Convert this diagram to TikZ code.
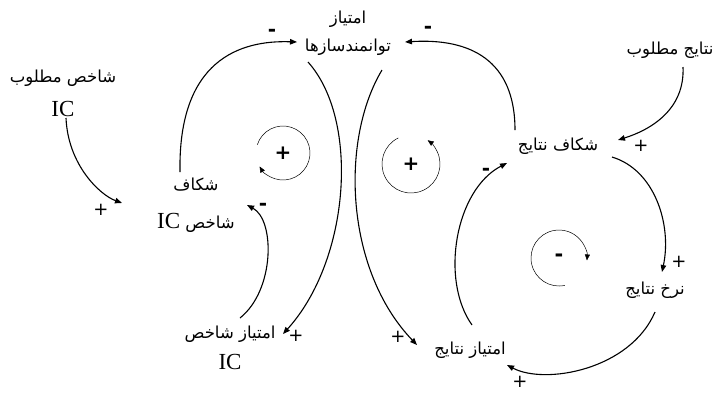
\documentclass[tikz,border=0pt]{standalone}
\usepackage{fontspec}
\setmainfont{Liberation Serif}
\newfontfamily\fa[Script=Arabic]{DejaVu Sans}
\newfontfamily\sg{DejaVu Sans}
\newfontfamily\sgb{DejaVu Sans Bold}
\TeXXeTstate=1
\usetikzlibrary{arrows.meta}
\newcommand{\ic}{\beginL{\rmfamily\fontsize{23}{23}\selectfont IC}\endL}
\begin{document}
\begin{tikzpicture}[x=1pt,y=-1pt,
 var/.style={align=center, inner sep=0pt, font=\fa\fontsize{16.5}{34}\selectfont},
 link/.style={line width=1.1pt, -{Triangle[length=7pt,width=5.5pt]}},
 loopar/.style={line width=0.5pt, -{Triangle[length=6pt,width=5pt]}},
 sign/.style={font=\sg\fontsize{18}{18}\selectfont, inner sep=0pt},
 neg/.style={font=\sgb\fontsize{20}{20}\selectfont, inner sep=0pt},
]
\useasboundingbox (0,0) rectangle (725,392);
% variables
\node[var] (gd1) at (63,93) {\beginR شاخص مطلوب\endR\\\ic};
\node[var, font=\fa\fontsize{16.5}{38}\selectfont] (gap1) at (196,205) {\beginR شکاف\endR\\\beginR شاخص \ic\endR};
\node[var, font=\fa\fontsize{16.5}{28}\selectfont] (tw) at (348,33) {\beginR امتیاز\endR\\\beginR توانمندسازها\endR};
\node[var, font=\fa\fontsize{16.5}{31}\selectfont] (sic) at (230,348) {\beginR امتیاز شاخص\endR\\\ic};
\node[var] (dr) at (670,50) {\beginR نتایج مطلوب\endR};
\node[var] (gr) at (558,146) {\beginR شکاف نتایج\endR};
\node[var] (rr) at (655,290) {\beginR نرخ نتایج\endR};
\node[var] (sr) at (470,350) {\beginR امتیاز نتایج\endR};
% connectors
\draw[link] ([shift={(3,25)}]gd1.center) .. controls (68,165) and (100,195) .. ([shift={(-74,-2)}]gap1.center);
\draw[link] ([shift={(-16,-33)}]gap1.center) .. controls (178,60) and (240,40) .. ([shift={(-51,9)}]tw.center);
\draw[link] ([shift={(-40,29)}]tw.center) .. controls (360,120) and (350,260) .. ([shift={(53,-14)}]sic.center);
\draw[link] ([shift={(10,-30)}]sic.center) .. controls (275,290) and (275,220) .. ([shift={(51,0)}]gap1.center);
\draw[link] ([shift={(34,37)}]tw.center) .. controls (340,140) and (345,270) .. ([shift={(-53,-5)}]sr.center);
\draw[link] ([shift={(-43,-16)}]gr.center) .. controls (515,60) and (470,38) .. ([shift={(57,9)}]tw.center);
\draw[link] ([shift={(2,-25)}]sr.center) .. controls (440,280) and (455,190) .. ([shift={(-51,17)}]gr.center);
\draw[link] ([shift={(54,11)}]gr.center) .. controls (655,170) and (672,225) .. ([shift={(7,-18)}]rr.center);
\draw[link] ([shift={(0,22)}]rr.center) .. controls (630,370) and (545,385) .. ([shift={(37,15)}]sr.center);
\draw[link] ([shift={(13,17)}]dr.center) .. controls (685,110) and (650,130) .. ([shift={(60,-6)}]gr.center);
% polarity signs
\node[sign] (s1) at (101,210) {+};
\node[neg] (s2) at (272,33) {-};
\node[sign] (s3) at (296,336) {+};
\node[neg] (s4) at (263,207) {-};
\node[sign] (s5) at (398,337) {+};
\node[neg] (s6) at (428,30) {-};
\node[neg] (s7) at (486,172) {-};
\node[sign] (s8) at (679,262) {+};
\node[sign] (s9) at (520,382) {+};
\node[sign] (s10) at (641,146) {+};
% loops
\node[sign, font=\sgb\fontsize{20}{20}\selectfont] (lA) at (283,153) {+};
\node[sign, font=\sgb\fontsize{20}{20}\selectfont] (lB) at (411,164) {+};
\node[neg, font=\sgb\fontsize{21}{21}\selectfont] (lC) at (559,258) {-};
\draw[loopar] ([shift={(198:27)}]lA.center) arc[start angle=198, end angle=510, radius=27];
\draw[loopar] ([shift={(244:29)}]lB.center) arc[start angle=244, end angle=-55, radius=29];
\draw[loopar] ([shift={(78:28)}]lC.center) arc[start angle=78, end angle=365, radius=28];
\end{tikzpicture}
\end{document}
